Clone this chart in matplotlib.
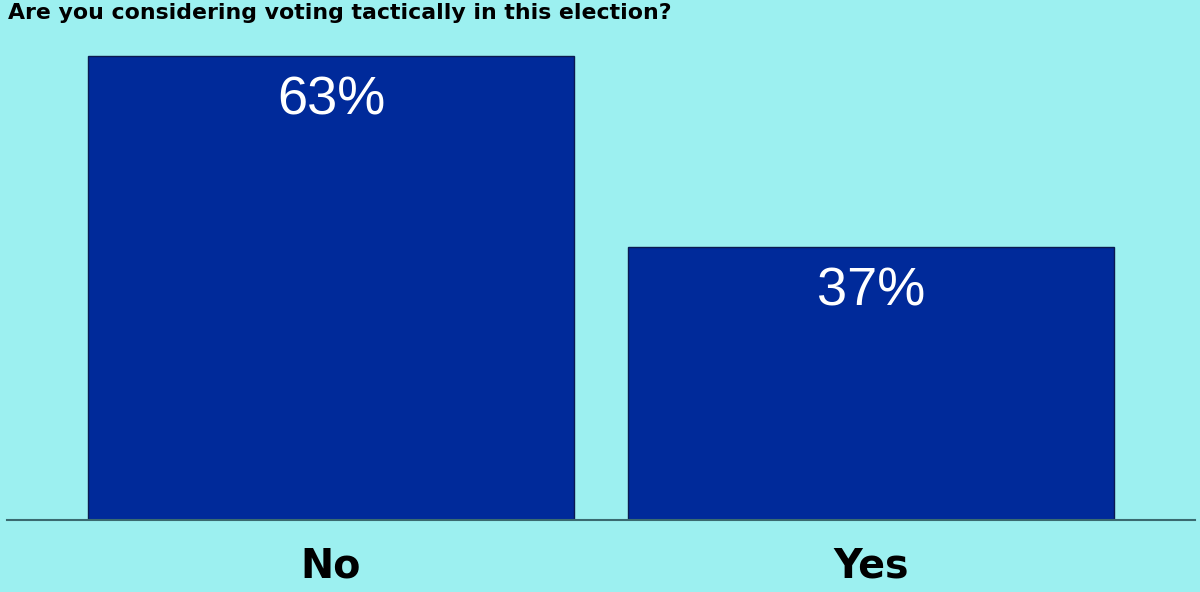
import matplotlib
matplotlib.use("Agg")
import matplotlib.pyplot as plt

title = "Are you considering voting tactically in this election?"
categories = ["No", "Yes"]
values = [63, 37]
labels = ["63%", "37%"]

BG = "#9cf0f0"
BAR = "#002a9a"

fig = plt.figure(figsize=(12, 5.92), dpi=100)
fig.patch.set_facecolor(BG)

# axes: baseline at y=520 px, spanning x 7..1195
ax = fig.add_axes([7/1200, 72/592, 1188/1200, 480/592])
ax.set_facecolor(BG)
x = list(range(len(categories)))
ax.bar(x, values, width=0.9, color=BAR, edgecolor="#0a1a50", linewidth=1.0, zorder=2)
ax.set_xlim(-0.6, 1.6)
ax.set_ylim(0, 480/7.365)

for s in ["top", "right", "left"]:
    ax.spines[s].set_visible(False)
ax.spines["bottom"].set_color("#3a6a70")
ax.spines["bottom"].set_linewidth(1.5)
ax.set_yticks([])
ax.set_xticks(x)
ax.set_xticklabels(categories, fontsize=28.5, fontweight="bold",
                   family="DejaVu Sans", color="black")
ax.tick_params(axis="x", length=0, pad=19)

for xi, v, lab in zip(x, values, labels):
    ax.annotate(lab, (xi, v), xytext=(0, -19), textcoords="offset pixels",
                ha="center", va="top", color="white", fontsize=39,
                family="Liberation Sans")

fig.text(8/1200, 1 - 3/592, title, ha="left", va="top", fontsize=15.8,
         fontweight="bold", family="DejaVu Sans", color="black")

fig.savefig("out.png", dpi=100, facecolor=BG)
